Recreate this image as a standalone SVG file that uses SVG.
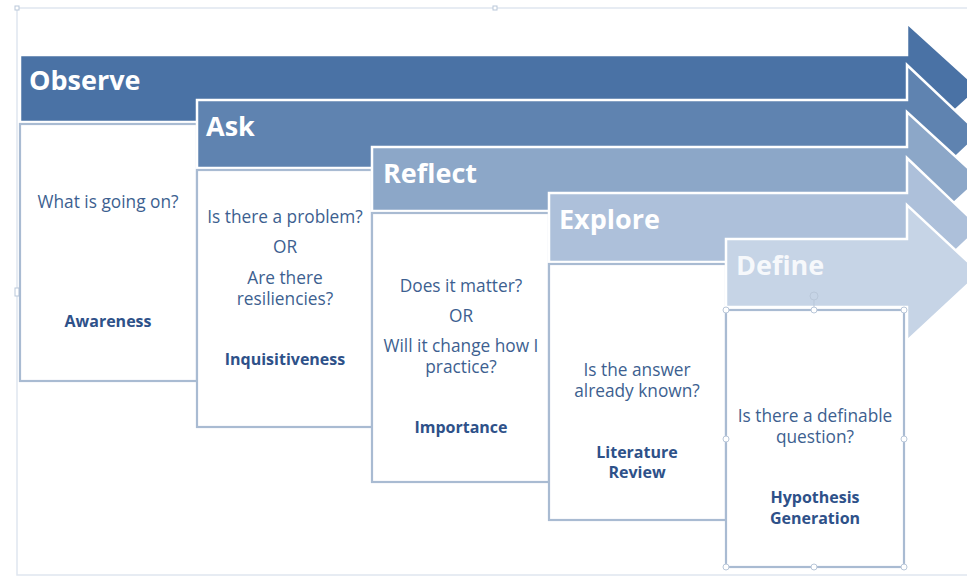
<svg xmlns="http://www.w3.org/2000/svg" width="967" height="577" viewBox="0 0 967 577">
<style>
.arrow{stroke:#ffffff;stroke-width:2.5;stroke-linejoin:miter}
.box{fill:#ffffff;stroke:#a9bbd2;stroke-width:2.2}
.title{font-family:"Open Sans","Liberation Sans",sans-serif;font-weight:700;font-size:27px;fill:#ffffff}
.q{font-family:"Open Sans","Liberation Sans",sans-serif;font-size:17.3px;fill:#3d5f90;text-anchor:middle}
.b{font-family:"Open Sans","Liberation Sans",sans-serif;font-size:16px;font-weight:700;fill:#2e5189;text-anchor:middle}
.h{fill:#ffffff;stroke:#b9c7d9;stroke-width:1}
</style>
<rect width="967" height="577" fill="#ffffff"/>
<g id="frame">
<rect x="17" y="8" width="960" height="567" fill="none" stroke="#dfe6ef" stroke-width="1.5"/>
<rect x="15" y="6" width="4" height="4" class="h"/>
<rect x="493" y="6" width="4" height="4" class="h"/>
<rect x="15" y="288" width="4" height="8" class="h"/>
</g>
<g id="observe">
<polygon class="arrow" fill="#4a72a5" points="20,55 907,55 907,23 979,88.5 907,154 907,122 20,122"/>
<text class="title" x="29" y="90">Observe</text>
<rect class="box" x="20" y="124" width="177" height="257"/>
<text class="q" x="108" y="208">What is going on?</text>
<text class="b" x="108" y="327">Awareness</text>
</g>
<g id="ask">
<polygon class="arrow" fill="#5f83b0" points="197,100 907,100 907,65 980,134 907,203 907,168 197,168"/>
<text class="title" x="206" y="136">Ask</text>
<rect class="box" x="197" y="170" width="175" height="257"/>
<text class="q" x="285" y="223">Is there a problem?</text>
<text class="q" x="285" y="253">OR</text>
<text class="q" x="285" y="284">Are there</text>
<text class="q" x="285" y="305">resiliencies?</text>
<text class="b" x="285" y="365">Inquisitiveness</text>
</g>
<g id="reflect">
<polygon class="arrow" fill="#8ca7c8" points="372,147 907,147 907,112 980,179 907,246 907,211 372,211"/>
<text class="title" x="383" y="183">Reflect</text>
<rect class="box" x="372" y="213" width="177" height="269"/>
<text class="q" x="461" y="292">Does it matter?</text>
<text class="q" x="461" y="322">OR</text>
<text class="q" x="461" y="352">Will it change how I</text>
<text class="q" x="461" y="373">practice?</text>
<text class="b" x="461" y="433">Importance</text>
</g>
<g id="explore">
<polygon class="arrow" fill="#adc0da" points="549,193 907,193 907,158 980,227.5 907,297 907,262 549,262"/>
<text class="title" x="559" y="229">Explore</text>
<rect class="box" x="549" y="264" width="177" height="256"/>
<text class="q" x="637" y="376">Is the answer</text>
<text class="q" x="637" y="397">already known?</text>
<text class="b" x="637" y="458">Literature</text>
<text class="b" x="637" y="478">Review</text>
</g>
<g id="define">
<polygon class="arrow" fill="#c6d4e6" points="726,239 907,239 907,205 980,273 907,341 907,307 726,307"/>
<text class="title" x="736" y="275" fill-opacity="0.85">Define</text>
<rect class="box" x="726" y="310" width="178" height="257"/>
<text class="q" x="815" y="422">Is there a definable</text>
<text class="q" x="815" y="443">question?</text>
<text class="b" x="815" y="503">Hypothesis</text>
<text class="b" x="815" y="524">Generation</text>
</g>
<g id="selection">
<line x1="814" y1="300" x2="814" y2="310" stroke="#b9c7d9" stroke-width="1"/>
<circle cx="814" cy="296" r="4" fill="none" stroke="#b9c7d9" stroke-width="1"/>
<circle cx="726" cy="310" r="3" class="h"/>
<circle cx="814" cy="310" r="3" class="h"/>
<circle cx="904" cy="310" r="3" class="h"/>
<circle cx="726" cy="439" r="3" class="h"/>
<circle cx="904" cy="439" r="3" class="h"/>
<circle cx="726" cy="567" r="3" class="h"/>
<circle cx="814" cy="567" r="3" class="h"/>
<circle cx="904" cy="567" r="3" class="h"/>
</g>
<g id="connectors"></g>
</svg>
